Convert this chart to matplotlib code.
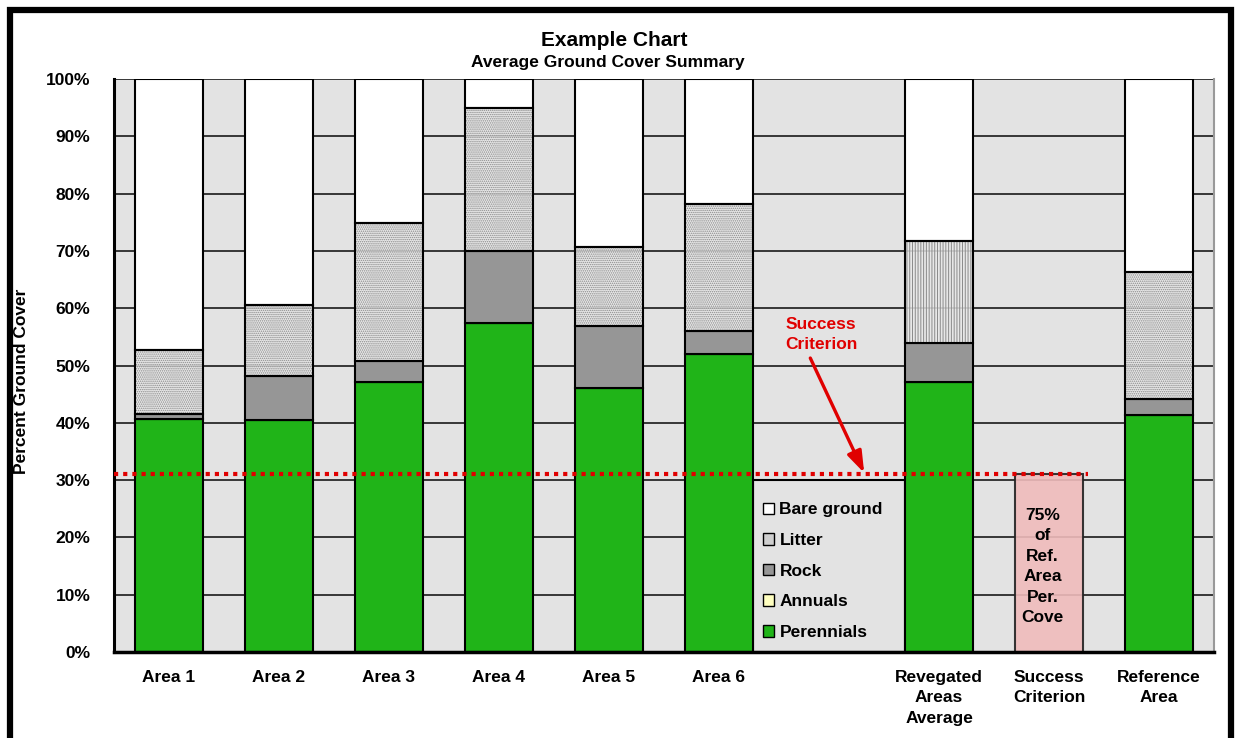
import matplotlib.pyplot as plt
from matplotlib.patches import Patch, Rectangle

plt.rcParams['font.family'] = ['Liberation Sans', 'DejaVu Sans']
plt.rcParams['font.weight'] = 'bold'
plt.rcParams['hatch.linewidth'] = 0.7

# x axis categories (the empty slot holds the legend)
categories = ['Area 1', 'Area 2', 'Area 3', 'Area 4', 'Area 5', 'Area 6', '',
              'Revegated\nAreas\nAverage', 'Success\nCriterion', 'Reference\nArea']

# average ground cover (%) for each surveyed area
sites = ['Area 1', 'Area 2', 'Area 3', 'Area 4', 'Area 5', 'Area 6',
         'Revegated\nAreas\nAverage', 'Reference\nArea']
perennials = [40.6, 40.5, 47.2, 57.5, 46.0, 52.0, 47.2, 41.4]
annuals = [0.0, 0.0, 0.0, 0.0, 0.0, 0.0, 0.0, 0.0]
rock = [0.9, 7.6, 3.6, 12.4, 10.9, 4.0, 6.7, 2.8]
litter = [11.2, 12.5, 24.0, 25.0, 13.7, 22.2, 17.9, 22.2]
bare = [47.3, 39.4, 25.2, 5.1, 29.4, 21.8, 28.2, 33.6]

# success criterion = 75% of the reference area perennial cover
criterion_name = 'Success\nCriterion'
criterion = 31.05

bg = '#e3e3e3'
green = '#20b418'
gray = '#969696'
yellow = '#ffffc0'
pink = '#f0bcbc'
red = '#e00000'
width = 0.62
fs = 12.5

fig = plt.figure(figsize=(12.36, 7.38), dpi=100)
ax = fig.add_axes([114 / 1236, 1 - 652 / 738, 1100 / 1236, 573 / 738])
ax.set_facecolor(bg)

x = [categories.index(s) for s in sites]

# stacked bars, bottom to top
bottom = [0.0] * len(sites)
ax.bar(x, perennials, width, bottom=bottom, color=green, edgecolor='black', lw=1.5, zorder=3)
bottom = [b + v for b, v in zip(bottom, perennials)]
ax.bar(x, annuals, width, bottom=bottom, color=yellow, edgecolor='black', lw=1.5, zorder=3)
bottom = [b + v for b, v in zip(bottom, annuals)]
ax.bar(x, rock, width, bottom=bottom, color=gray, edgecolor='black', lw=1.5, zorder=3)
bottom = [b + v for b, v in zip(bottom, rock)]
# litter: light fill, fine dotted hatch, then outline
ax.bar(x, litter, width, bottom=bottom, color='#e8e8e8', alpha=0.85, lw=0, zorder=3)
hatched = ax.bar(x, litter, width, bottom=bottom, color='none', edgecolor='#8a8a8a',
                 hatch='........', lw=0, zorder=3.1)
hatched[sites.index('Revegated\nAreas\nAverage')].set_hatch('||||||')
ax.bar(x, litter, width, bottom=bottom, fill=False, edgecolor='black', lw=1.5, zorder=3.2)
bottom = [b + v for b, v in zip(bottom, litter)]
ax.bar(x, bare, width, bottom=bottom, color='white', edgecolor='black', lw=1.5, zorder=3)

# criterion bar
cx = categories.index(criterion_name)
ax.bar(cx, criterion, width, color=pink, alpha=0.9, edgecolor='#222222', lw=1.5, zorder=3)
ax.text(cx - 0.06, criterion / 2 - 0.6, '75%\nof\nRef.\nArea\nPer.\nCove', ha='center', va='center',
        fontsize=fs, fontweight='bold', linespacing=1.45, zorder=5)

# criterion line and callout
ax.plot([-0.5, cx + width / 2 + 0.04], [criterion, criterion], color=red, lw=3,
        linestyle=(0, (1, 1.2)), dash_capstyle='butt', zorder=4)
ax.annotate('', xy=(6.32, criterion + 0.2), xytext=(5.83, 51.3),
            arrowprops=dict(arrowstyle='-|>,head_length=1.3,head_width=0.45',
                            color=red, lw=2.4, shrinkA=0, shrinkB=0), zorder=5)
ax.text(5.93, 55.4, 'Success\nCriterion', color=red, ha='center', va='center',
        fontsize=fs, fontweight='bold', linespacing=1.45, zorder=5)

# legend box in the empty slot
ax.add_patch(Rectangle((5 + width / 2, 0), 2 - width, 30, facecolor=bg, edgecolor='black',
                       lw=1.5, zorder=2.5))
handles = [
    Patch(facecolor='white', edgecolor='black', label='Bare ground'),
    Patch(facecolor='#cfcfcf', edgecolor='black', label='Litter'),
    Patch(facecolor=gray, edgecolor='black', label='Rock'),
    Patch(facecolor=yellow, edgecolor='black', label='Annuals'),
    Patch(facecolor=green, edgecolor='black', label='Perennials'),
]
leg = ax.legend(handles=handles, loc='upper left', bbox_to_anchor=(5.40, 26.1),
                bbox_transform=ax.transData, frameon=False, fontsize=fs,
                handlelength=0.65, handleheight=0.65, handletextpad=0.3,
                labelspacing=0.9, borderpad=0, borderaxespad=0)
leg.set_zorder(6)

# axes styling
ax.set_xlim(-0.5, 9.5)
ax.set_ylim(0, 100)
ax.set_yticks(range(0, 101, 10))
ax.set_yticklabels([f'{v}%' for v in range(0, 101, 10)], fontsize=fs, fontweight='bold')
ax.set_xticks(range(len(categories)))
ax.set_xticklabels(categories, fontsize=fs, fontweight='bold', linespacing=1.45)
ax.tick_params(axis='y', length=0, pad=17)
ax.tick_params(axis='x', length=0, pad=13)
ax.yaxis.grid(True, color='#1a1a1a', lw=1.2, zorder=1)
ax.set_axisbelow(True)
ax.spines['top'].set_visible(False)
ax.spines['right'].set_color('#999999')
ax.spines['right'].set_linewidth(1.5)
ax.spines['left'].set_linewidth(2.2)
ax.spines['bottom'].set_linewidth(2.5)
ax.spines['bottom'].set_zorder(6)

fig.text(22 / 1236, 1 - 381 / 738, 'Percent Ground Cover', rotation=90, ha='center', va='center',
         fontsize=fs, fontweight='bold')
fig.text(0.497, 1 - 40 / 738, 'Example Chart', ha='center', va='center', fontsize=15, fontweight='bold')
fig.text(0.492, 1 - 63 / 738, 'Average Ground Cover Summary', ha='center', va='center',
         fontsize=fs, fontweight='bold')

# outer frame
fig.patches.append(Rectangle((10 / 1236, -0.1), 1221 / 1236, 1.1 - 10 / 738, fill=False,
                             edgecolor='black', lw=4.5, transform=fig.transFigure, figure=fig))

fig.savefig('out.png', dpi=100)
